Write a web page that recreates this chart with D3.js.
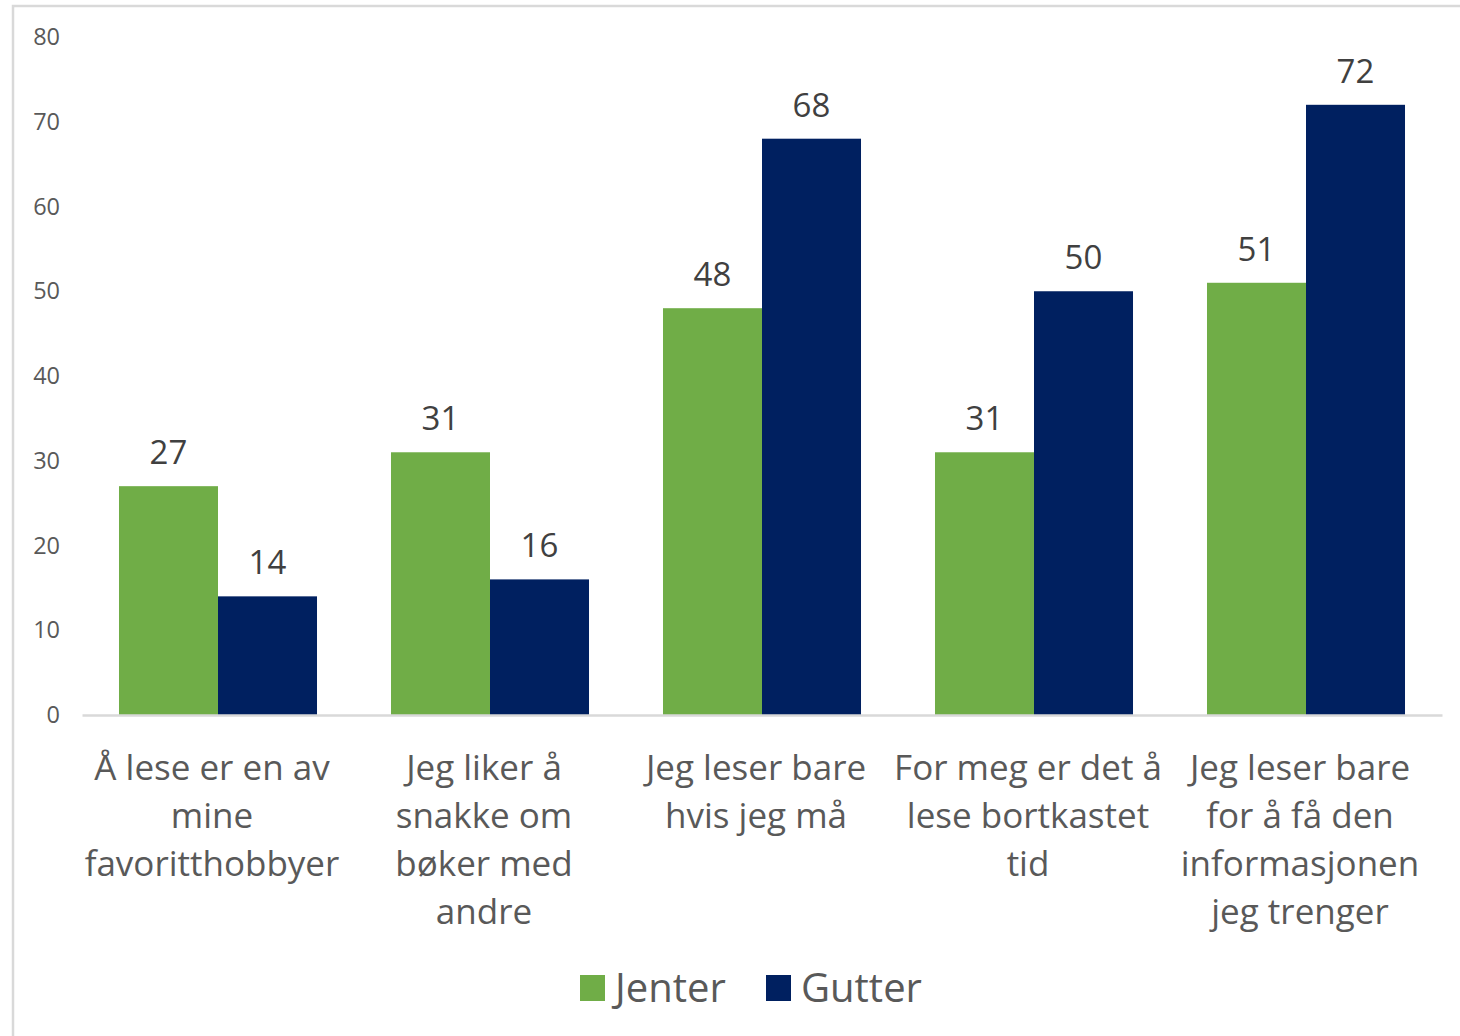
<!DOCTYPE html>
<html>
<head>
<meta charset="utf-8">
<script src="https://cdn.jsdelivr.net/npm/d3@7"></script>
<style>
  html, body { margin: 0; padding: 0; background: #fff; }
  svg { display: block; }
  text { font-family: "Open Sans", Lato, "Noto Sans", sans-serif; }
</style>
</head>
<body>
<svg id="chart" width="1460" height="1036"></svg>
<script>
const categories = [
  "Å lese er en av mine favoritthobbyer",
  "Jeg liker å snakke om bøker med andre",
  "Jeg leser bare hvis jeg må",
  "For meg er det å lese bortkastet tid",
  "Jeg leser bare for å få den informasjonen jeg trenger"
];
// category labels as wrapped in the reference
const categoryLines = [
  ["Å lese er en av", "mine", "favoritthobbyer"],
  ["Jeg liker å", "snakke om", "bøker med", "andre"],
  ["Jeg leser bare", "hvis jeg må"],
  ["For meg er det å", "lese bortkastet", "tid"],
  ["Jeg leser bare", "for å få den", "informasjonen", "jeg trenger"]
];
const seriesNames = ["Jenter", "Gutter"];
const jenter = [27, 31, 48, 31, 51];
const gutter = [14, 16, 68, 50, 72];
const yTicks = [0, 10, 20, 30, 40, 50, 60, 70, 80];
const colors = ["#70AD47", "#002060"];

const svg = d3.select("#chart");

// chart border
svg.append("rect").attr("x", 13).attr("y", 6).attr("width", 1460).attr("height", 1040)
  .attr("fill", "#fff").attr("stroke", "#d9d9d9").attr("stroke-width", 2.5);

const x0 = d3.scaleBand().domain(categories).range([82, 1442]).paddingInner(0.272).paddingOuter(0.136);
const x1 = d3.scaleBand().domain(seriesNames).range([0, x0.bandwidth()]);
const y = d3.scaleLinear().domain([0, 80]).range([715, 37]);

// y axis labels
const yAxis = d3.axisLeft(y).tickValues(yTicks).tickSize(0).tickPadding(0);
const ya = svg.append("g").attr("transform", "translate(60,0)").call(yAxis);
ya.select(".domain").remove();
ya.selectAll("text").attr("fill", "#595959").style("font-size", "23.5px")
  .style("font-family", '"Open Sans", Lato, sans-serif');

const data = categories.map((c, i) => ({ cat: c, vals: [jenter[i], gutter[i]] }));

const groups = svg.append("g").selectAll("g").data(data).join("g")
  .attr("transform", d => `translate(${x0(d.cat)},0)`);

groups.selectAll("rect").data(d => d.vals.map((v, j) => ({ s: seriesNames[j], v, j })))
  .join("rect")
  .attr("x", d => x1(d.s))
  .attr("y", d => y(d.v))
  .attr("width", x1.bandwidth())
  .attr("height", d => y(0) - y(d.v))
  .attr("fill", d => colors[d.j]);

groups.selectAll("text.val").data(d => d.vals.map((v, j) => ({ s: seriesNames[j], v, j })))
  .join("text").attr("class", "val")
  .attr("x", d => x1(d.s) + x1.bandwidth() / 2)
  .attr("y", d => y(d.v) - 22)
  .attr("text-anchor", "middle")
  .attr("fill", "#404040")
  .style("font-size", "33px")
  .text(d => d.v);

// x axis line
const xAxis = d3.axisBottom(x0).tickSize(0).tickFormat("");
const xa = svg.append("g").attr("transform", `translate(0,${y(0)})`).call(xAxis);
xa.select(".domain").attr("stroke", "#d9d9d9").attr("stroke-width", 2.5);

// category labels
categories.forEach((c, i) => {
  const t = svg.append("text")
    .attr("text-anchor", "middle")
    .attr("fill", "#595959")
    .style("font-size", "35px");
  categoryLines[i].forEach((l, k) => {
    t.append("tspan").attr("x", x0(c) + x0.bandwidth() / 2 - 6).attr("y", 780 + k * 48).text(l);
  });
});

// legend
const legend = svg.append("g");
const legendItems = [
  { name: seriesNames[0], color: colors[0], x: 580 },
  { name: seriesNames[1], color: colors[1], x: 766 }
];
legendItems.forEach(it => {
  legend.append("rect").attr("x", it.x).attr("y", 975).attr("width", 25).attr("height", 26).attr("fill", it.color);
  legend.append("text").attr("x", it.x + 35).attr("y", 1002)
    .attr("fill", "#595959").style("font-size", "40px").text(it.name);
});
</script>
</body>
</html>
